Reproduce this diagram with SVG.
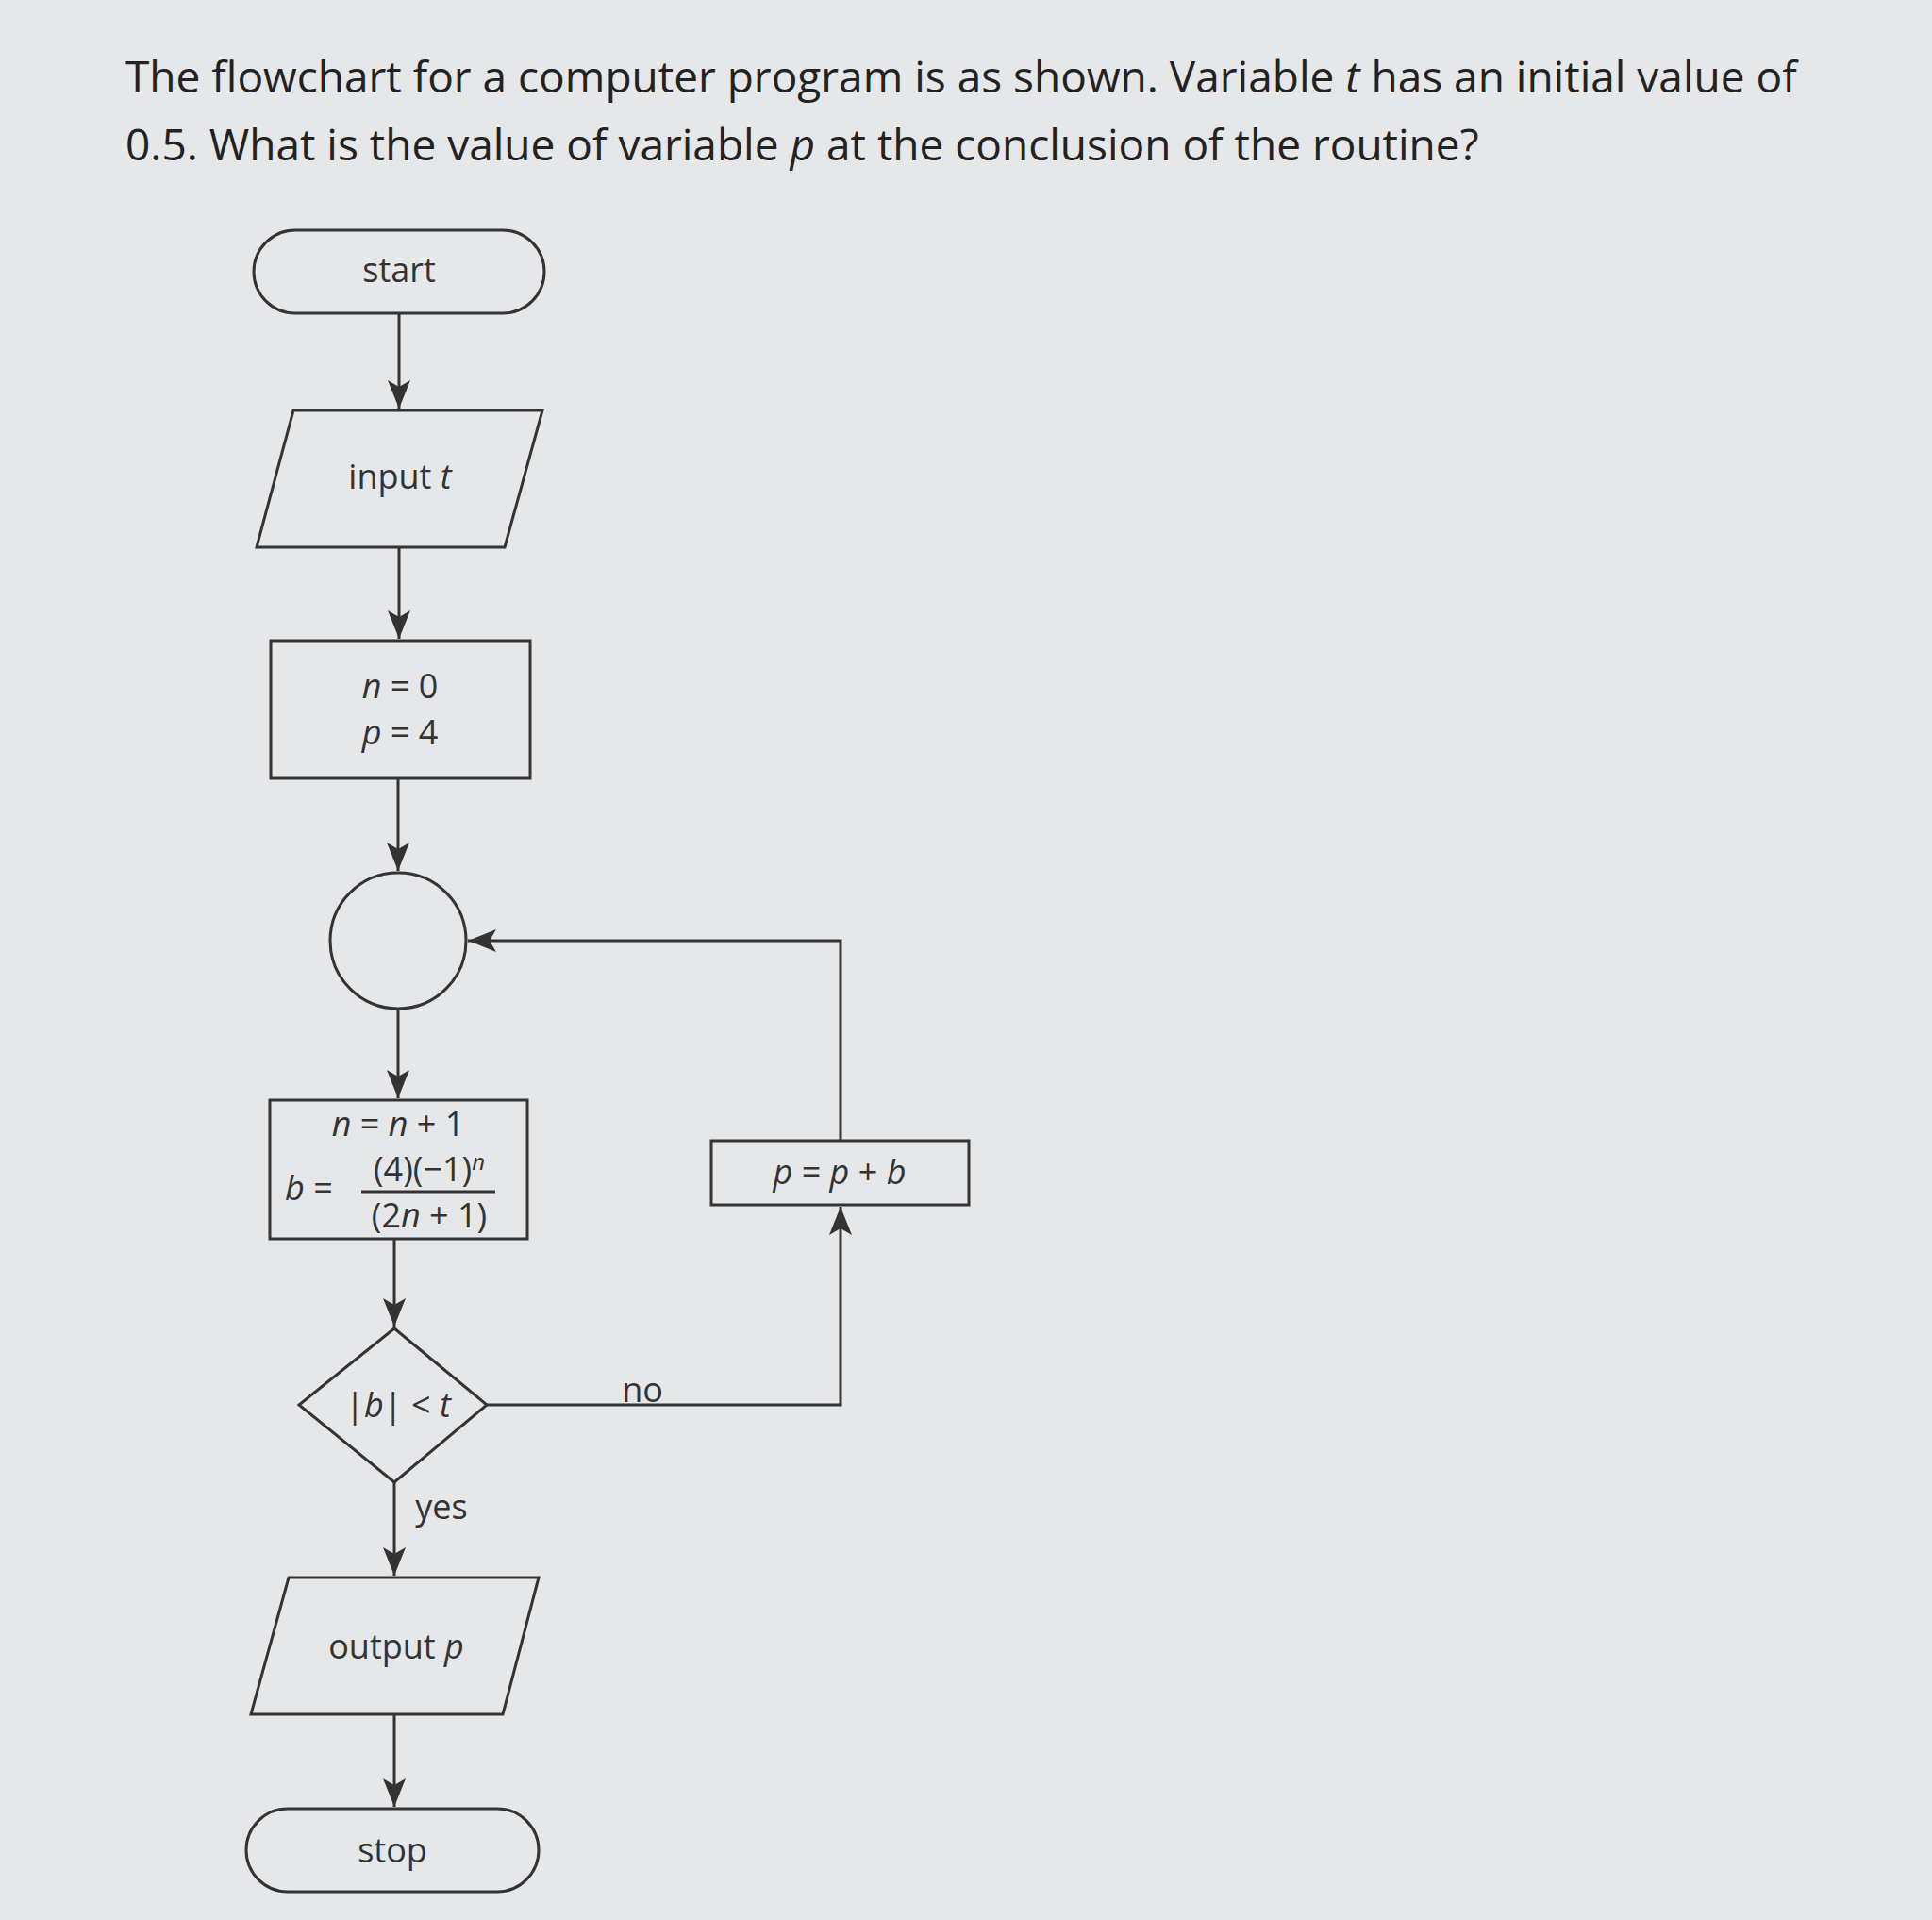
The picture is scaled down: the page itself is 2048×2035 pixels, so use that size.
<svg xmlns="http://www.w3.org/2000/svg" width="2048" height="2035" viewBox="0 0 2048 2035">
<style>
.s{fill:none;stroke:#333;stroke-width:3}
.c{stroke:#333;stroke-width:3;fill:none}
text{font-family:"Open Sans","Liberation Sans",sans-serif;fill:#333;font-size:36px}
.t{font-size:46px;fill:#222}
.m{text-anchor:middle}
</style>
<defs><marker id="a" viewBox="0 0 30 24" refX="30" refY="12" markerWidth="30" markerHeight="24" markerUnits="userSpaceOnUse" orient="auto"><path d="M0,0 L30,12 L0,24 L7,12 Z" fill="#333"/></marker></defs>
<rect width="2048" height="2035" fill="#e6e7e9"/>
<text class="t" x="133" y="98">The flowchart for a computer program is as shown. Variable <tspan font-style="italic">t</tspan> has an initial value of</text>
<text class="t" x="133" y="170">0.5. What is the value of variable <tspan font-style="italic">p</tspan> at the conclusion of the routine?</text>
<g id="start"><rect class="s" x="269" y="244" width="308" height="88" rx="44"/><text class="m" x="423" y="299">start</text></g>
<g id="input"><polygon class="s" points="311,435 575,435 535,580 272,580"/><text class="m" x="424" y="518">input <tspan font-style="italic">t</tspan></text></g>
<g id="init"><rect class="s" x="287" y="679" width="275" height="146"/><text class="m" x="424" y="740"><tspan font-style="italic">n</tspan> = 0</text><text class="m" x="424" y="789"><tspan font-style="italic">p</tspan> = 4</text></g>
<g id="connector"><circle class="s" cx="422" cy="997" r="72"/></g>
<g id="calc"><rect class="s" x="286" y="1166" width="273" height="147"/><text class="m" x="422" y="1204"><tspan font-style="italic">n</tspan> = <tspan font-style="italic">n</tspan> + 1</text><text x="302" y="1272"><tspan font-style="italic">b</tspan> =</text><text class="m" x="455" y="1252">(4)(−1)<tspan font-size="24" dy="-12" font-style="italic">n</tspan></text><line class="c" x1="383" y1="1263" x2="525" y2="1263"/><text class="m" x="455" y="1301">(2<tspan font-style="italic">n</tspan> + 1)</text></g>
<g id="decision"><polygon class="s" points="418,1408 516,1489 418,1571 317,1489"/><text class="m" x="422" y="1502">|<tspan font-style="italic">b</tspan>| &lt; <tspan font-style="italic">t</tspan></text></g>
<g id="update"><rect class="s" x="754" y="1209" width="273" height="68"/><text class="m" x="890" y="1255"><tspan font-style="italic">p</tspan> = <tspan font-style="italic">p</tspan> + <tspan font-style="italic">b</tspan></text></g>
<g id="output"><polygon class="s" points="306,1672 571,1672 533,1817 266,1817"/><text class="m" x="420" y="1758">output <tspan font-style="italic">p</tspan></text></g>
<g id="stop"><rect class="s" x="261" y="1917" width="310" height="88" rx="44"/><text class="m" x="416" y="1974">stop</text></g>
<g id="connectors">
<line class="c" x1="423" y1="332" x2="423" y2="433" marker-end="url(#a)"/>
<line class="c" x1="423" y1="580" x2="423" y2="677" marker-end="url(#a)"/>
<line class="c" x1="422" y1="825" x2="422" y2="923" marker-end="url(#a)"/>
<line class="c" x1="422" y1="1069" x2="422" y2="1164" marker-end="url(#a)"/>
<line class="c" x1="418" y1="1313" x2="418" y2="1406" marker-end="url(#a)"/>
<line class="c" x1="418" y1="1571" x2="418" y2="1670" marker-end="url(#a)"/>
<line class="c" x1="418" y1="1817" x2="418" y2="1915" marker-end="url(#a)"/>
<polyline class="c" points="516,1489 891,1489 891,1279" marker-end="url(#a)"/>
<polyline class="c" points="891,1209 891,997 496,997" marker-end="url(#a)"/>
<text class="m" x="681" y="1486">no</text>
<text class="m" x="468" y="1610">yes</text>
</g>
</svg>
